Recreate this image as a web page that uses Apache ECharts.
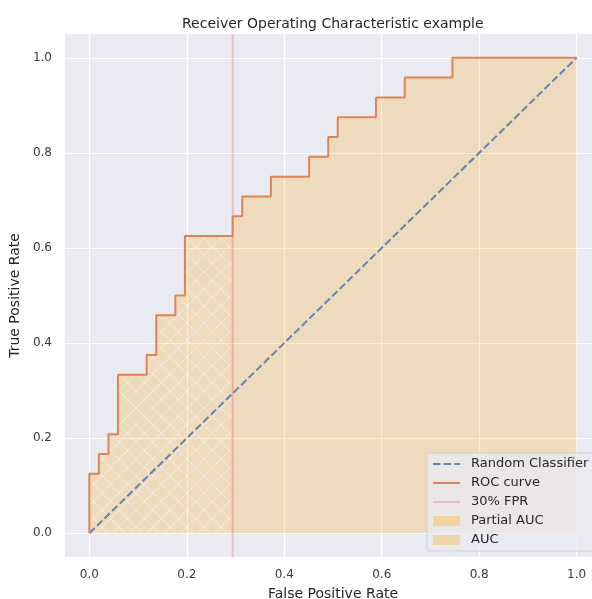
<!DOCTYPE html>
<html>
<head>
<meta charset="utf-8">
<script src="https://cdn.jsdelivr.net/npm/echarts@6/dist/echarts.min.js"></script>
<style>
html,body{margin:0;padding:0;background:#ffffff;}
#chart{width:592px;height:599px;}
</style>
</head>
<body>
<div id="chart"></div>
<script>
// ROC curve points (false positive rate, true positive rate)
const fpr = [0, 0, 0.0196, 0.0196, 0.0392, 0.0392, 0.0588, 0.0588, 0.1176, 0.1176, 0.1373, 0.1373,
  0.1765, 0.1765, 0.1961, 0.1961, 0.2941, 0.2941, 0.3137, 0.3137, 0.3725, 0.3725, 0.4510, 0.4510,
  0.4902, 0.4902, 0.5098, 0.5098, 0.5882, 0.5882, 0.6471, 0.6471, 0.7451, 0.7451, 1.0];
const tpr = [0, 0.125, 0.125, 0.1667, 0.1667, 0.2083, 0.2083, 0.3333, 0.3333, 0.375, 0.375, 0.4583,
  0.4583, 0.5, 0.5, 0.625, 0.625, 0.6667, 0.6667, 0.7083, 0.7083, 0.75, 0.75, 0.7917,
  0.7917, 0.8333, 0.8333, 0.875, 0.875, 0.9167, 0.9167, 0.9583, 0.9583, 1.0, 1.0];
const randomX = [0, 1];
const randomY = [0, 1];
const fprLimit = 0.2941;
const xTicks = [0, 0.2, 0.4, 0.6, 0.8, 1.0];
const yTicks = [0, 0.2, 0.4, 0.6, 0.8, 1.0];
const seriesNames = ['Random Classifier', 'ROC curve', '30% FPR', 'Partial AUC', 'AUC'];

const rocData = fpr.map((x, i) => [x, tpr[i]]);
const partialData = rocData.filter((p, i) => p[0] <= fprLimit && !(p[0] === fprLimit && i > 0 && rocData[i - 1][0] === fprLimit));
const randomData = randomX.map((x, i) => [x, randomY[i]]);
const limitData = [[fprLimit, -0.05], [fprLimit, 1.05]];

// hatch pattern ("x")
const hc = document.createElement('canvas');
hc.width = 17; hc.height = 17;
const hctx = hc.getContext('2d');
hctx.strokeStyle = 'rgba(255,255,255,0.45)';
hctx.lineWidth = 1;
hctx.beginPath();
hctx.moveTo(-1, -1); hctx.lineTo(18, 18);
hctx.moveTo(-1, 18); hctx.lineTo(18, -1);
hctx.stroke();

const fillColor = 'rgba(255,165,0,0.3)';
const textColor = '#3a3a3a';
const font = 'DejaVu Sans';
const hideSymbol = {color: 'rgba(0,0,0,0)', borderWidth: 0, opacity: 0};

const chart = echarts.init(document.getElementById('chart'), null, {renderer: 'canvas'});
chart.setOption({
  animation: false,
  backgroundColor: '#ffffff',
  title: {
    text: 'Receiver Operating Characteristic example',
    left: 177, top: 12,
    textStyle: {fontFamily: font, fontSize: 14, fontWeight: 'normal', color: '#262626'}
  },
  grid: {left: 65, top: 34, width: 536, height: 523, outerBoundsMode: 'none', containLabel: false,
    show: true, backgroundColor: '#eaeaf2', borderWidth: 0},
  xAxis: {
    type: 'value', min: -0.05, max: 1.05,
    name: 'False Positive Rate', nameLocation: 'middle', nameGap: 30,
    nameTextStyle: {fontFamily: font, fontSize: 14, color: '#262626'},
    axisLine: {show: false},
    axisTick: {show: false, customValues: xTicks},
    axisLabel: {customValues: xTicks, formatter: v => v.toFixed(1), fontFamily: font, fontSize: 12, color: textColor, margin: 12},
    splitLine: {show: true, lineStyle: {color: '#ffffff', width: 1.2}}
  },
  yAxis: {
    type: 'value', min: -0.05, max: 1.05,
    name: 'True Positive Rate', nameLocation: 'middle', nameGap: 40,
    nameTextStyle: {fontFamily: font, fontSize: 14, color: '#262626'},
    axisLine: {show: false},
    axisTick: {show: false, customValues: yTicks},
    axisLabel: {customValues: yTicks, formatter: v => v.toFixed(1), fontFamily: font, fontSize: 12, color: textColor, margin: 13},
    splitLine: {show: true, lineStyle: {color: '#ffffff', width: 1.2}}
  },
  legend: {
    orient: 'vertical', left: 427, top: 453,
    padding: [4, 5, 4, 5], itemGap: 5, itemWidth: 27, itemHeight: 10,
    backgroundColor: 'rgba(234,234,242,0.8)', borderColor: 'rgba(204,204,204,0.8)', borderWidth: 1, borderRadius: 3,
    textStyle: {fontFamily: font, fontSize: 13, color: '#262626', lineHeight: 14, padding: [0, 0, 0, 6], width: 130},
    data: [
      {name: seriesNames[0], itemStyle: hideSymbol},
      {name: seriesNames[1], itemStyle: hideSymbol},
      {name: seriesNames[2], itemStyle: hideSymbol},
      {name: seriesNames[3], icon: 'rect', itemStyle: {color: fillColor}},
      {name: seriesNames[4], icon: 'rect', itemStyle: {color: fillColor}}
    ]
  },
  series: [
    {
      name: seriesNames[4], type: 'line', data: rocData, symbol: 'none', z: 1,
      lineStyle: {width: 0}, areaStyle: {color: fillColor}, itemStyle: {color: fillColor}
    },
    {
      name: seriesNames[3], type: 'line', data: partialData, symbol: 'none', z: 2,
      lineStyle: {width: 0}, areaStyle: {color: {image: hc, repeat: 'repeat'}, opacity: 1}, itemStyle: {color: fillColor}
    },
    {
      name: seriesNames[2], type: 'line', data: limitData, symbol: 'none', z: 3,
      lineStyle: {color: 'rgba(255,0,0,0.2)', width: 2}, itemStyle: {color: 'rgba(255,0,0,0.2)'}
    },
    {
      name: seriesNames[0], type: 'line', data: randomData, symbol: 'none', z: 4,
      lineStyle: {color: '#4c72b0', width: 2, type: [7.4, 3.2], opacity: 0.85}, itemStyle: {color: '#4c72b0'}
    },
    {
      name: seriesNames[1], type: 'line', data: rocData, symbol: 'none', z: 5,
      lineStyle: {color: '#dd8452', width: 2}, itemStyle: {color: '#dd8452'}
    }
  ]
});
</script>
</body>
</html>
